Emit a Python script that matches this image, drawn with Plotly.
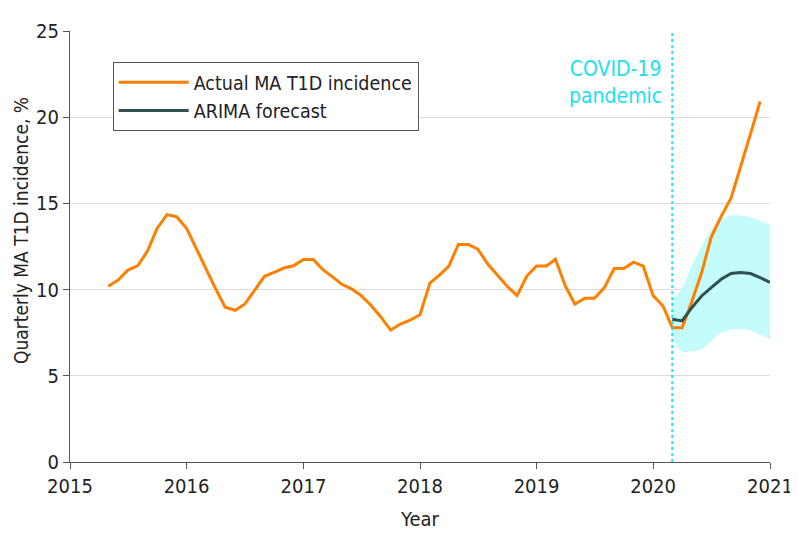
import pandas as pd
import plotly.graph_objects as go

# monthly actual incidence, May 2015 - Dec 2020
actual_start = '2015-05-01'
actual_vals = [10.19, 10.56, 11.13, 11.38, 12.25, 13.56, 14.35, 14.23,
               13.56, 12.35, 11.2, 10.04, 8.98, 8.8, 9.15, 9.94, 10.77, 11.0, 11.25, 11.38,
               11.75, 11.75, 11.19, 10.75, 10.31, 10.04, 9.65, 9.08, 8.4, 7.65, 8.0, 8.23,
               8.54, 10.38, 10.81, 11.35, 12.62, 12.62, 12.35, 11.48, 10.81, 10.19, 9.65, 10.77,
               11.37, 11.37, 11.76, 10.22, 9.15, 9.5, 9.5, 10.1, 11.22, 11.22, 11.59, 11.36,
               9.65, 9.05, 7.79, 7.79, 9.3, 10.99, 13.05, 14.25, 15.3, 17.09, 19.03, 20.91]

# ARIMA forecast, Mar 2020 - Jan 2021
fc_start = '2020-03-01'
fc_vals = [8.28, 8.18, 8.95, 9.63, 10.12, 10.6, 10.93, 10.99, 10.93, 10.7, 10.41]
fc_upper = [9.45, 10.1, 11.4, 12.5, 13.5, 14.1, 14.3, 14.3, 14.2, 14.0, 13.75]
fc_lower = [7.3, 6.4, 6.42, 6.55, 7.0, 7.48, 7.67, 7.71, 7.63, 7.38, 7.13]

covid_date = '2020-03-01'

orange = '#ff7f00'
teal = '#2e5050'
band = '#c4fbfb'
cyan = '#22def0'
font = "DejaVu Sans Condensed, DejaVu Sans, sans-serif"

x_act = pd.date_range(actual_start, periods=len(actual_vals), freq='MS')
x_fc = pd.date_range(fc_start, periods=len(fc_vals), freq='MS')

fig = go.Figure()

fig.add_trace(go.Scatter(x=x_fc, y=fc_lower, mode='lines', line=dict(width=0, shape='spline'),
                         showlegend=False, hoverinfo='skip'))
fig.add_trace(go.Scatter(x=x_fc, y=fc_upper, mode='lines', line=dict(width=0, shape='spline'),
                         fill='tonexty', fillcolor=band, showlegend=False, hoverinfo='skip'))

fig.add_shape(type='line', x0=covid_date, x1=covid_date, y0=0, y1=25, xref='x', yref='y',
              line=dict(color=cyan, width=2, dash='dot'))

fig.add_trace(go.Scatter(x=x_act, y=actual_vals, mode='lines', name='Actual MA T1D incidence',
                         line=dict(color=orange, width=3)))
fig.add_trace(go.Scatter(x=x_fc, y=fc_vals, mode='lines', name='ARIMA forecast',
                         line=dict(color=teal, width=3)))

fig.add_annotation(x=covid_date, y=1.0, xref='x', yref='paper', xshift=-8, yshift=-24,
                   text='COVID-19<br>pandemic', showarrow=False, xanchor='right', yanchor='top',
                   align='center', font=dict(color=cyan, size=21, family=font))

# y title as annotation (sits a bit above the plot centre in the original)
fig.add_annotation(x=0, y=0.536, xref='paper', yref='paper', xshift=-49,
                   text='Quarterly MA T1D incidence, %', textangle=-90, showarrow=False,
                   xanchor='center', yanchor='middle', font=dict(size=19, family=font, color='#222'))

fig.update_xaxes(type='date', range=['2015-01-01', '2021-01-01'], dtick='M12', tickformat='%Y',
                 showgrid=False, showline=True, linecolor='#555', linewidth=1,
                 ticks='outside', ticklen=6, tickcolor='#555', automargin=False,
                 ticklabeloverflow='allow',
                 title_text='Year', title_font=dict(size=20), title_standoff=14,
                 tickfont=dict(size=20))
fig.update_yaxes(range=[0, 25], dtick=5, showgrid=True, gridcolor='#dcdcdc', gridwidth=1,
                 zeroline=False, showline=True, linecolor='#555', linewidth=1,
                 ticks='outside', ticklen=6, tickcolor='#555', automargin=False,
                 ticklabeloverflow='allow', tickfont=dict(size=20))

# page body has an 8px margin, so the figure is a bit smaller than the window
fig.update_layout(width=790, height=540, plot_bgcolor='white', paper_bgcolor='white',
                  margin=dict(l=62, r=28, t=23, b=86),
                  font=dict(family=font, color='#222', size=19),
                  legend=dict(x=0.061, y=0.928, xanchor='left', yanchor='top',
                              traceorder='normal',
                              bordercolor='#555', borderwidth=1, bgcolor='white',
                              itemwidth=70, font=dict(size=19.5)))

fig.write_html("out.html")
